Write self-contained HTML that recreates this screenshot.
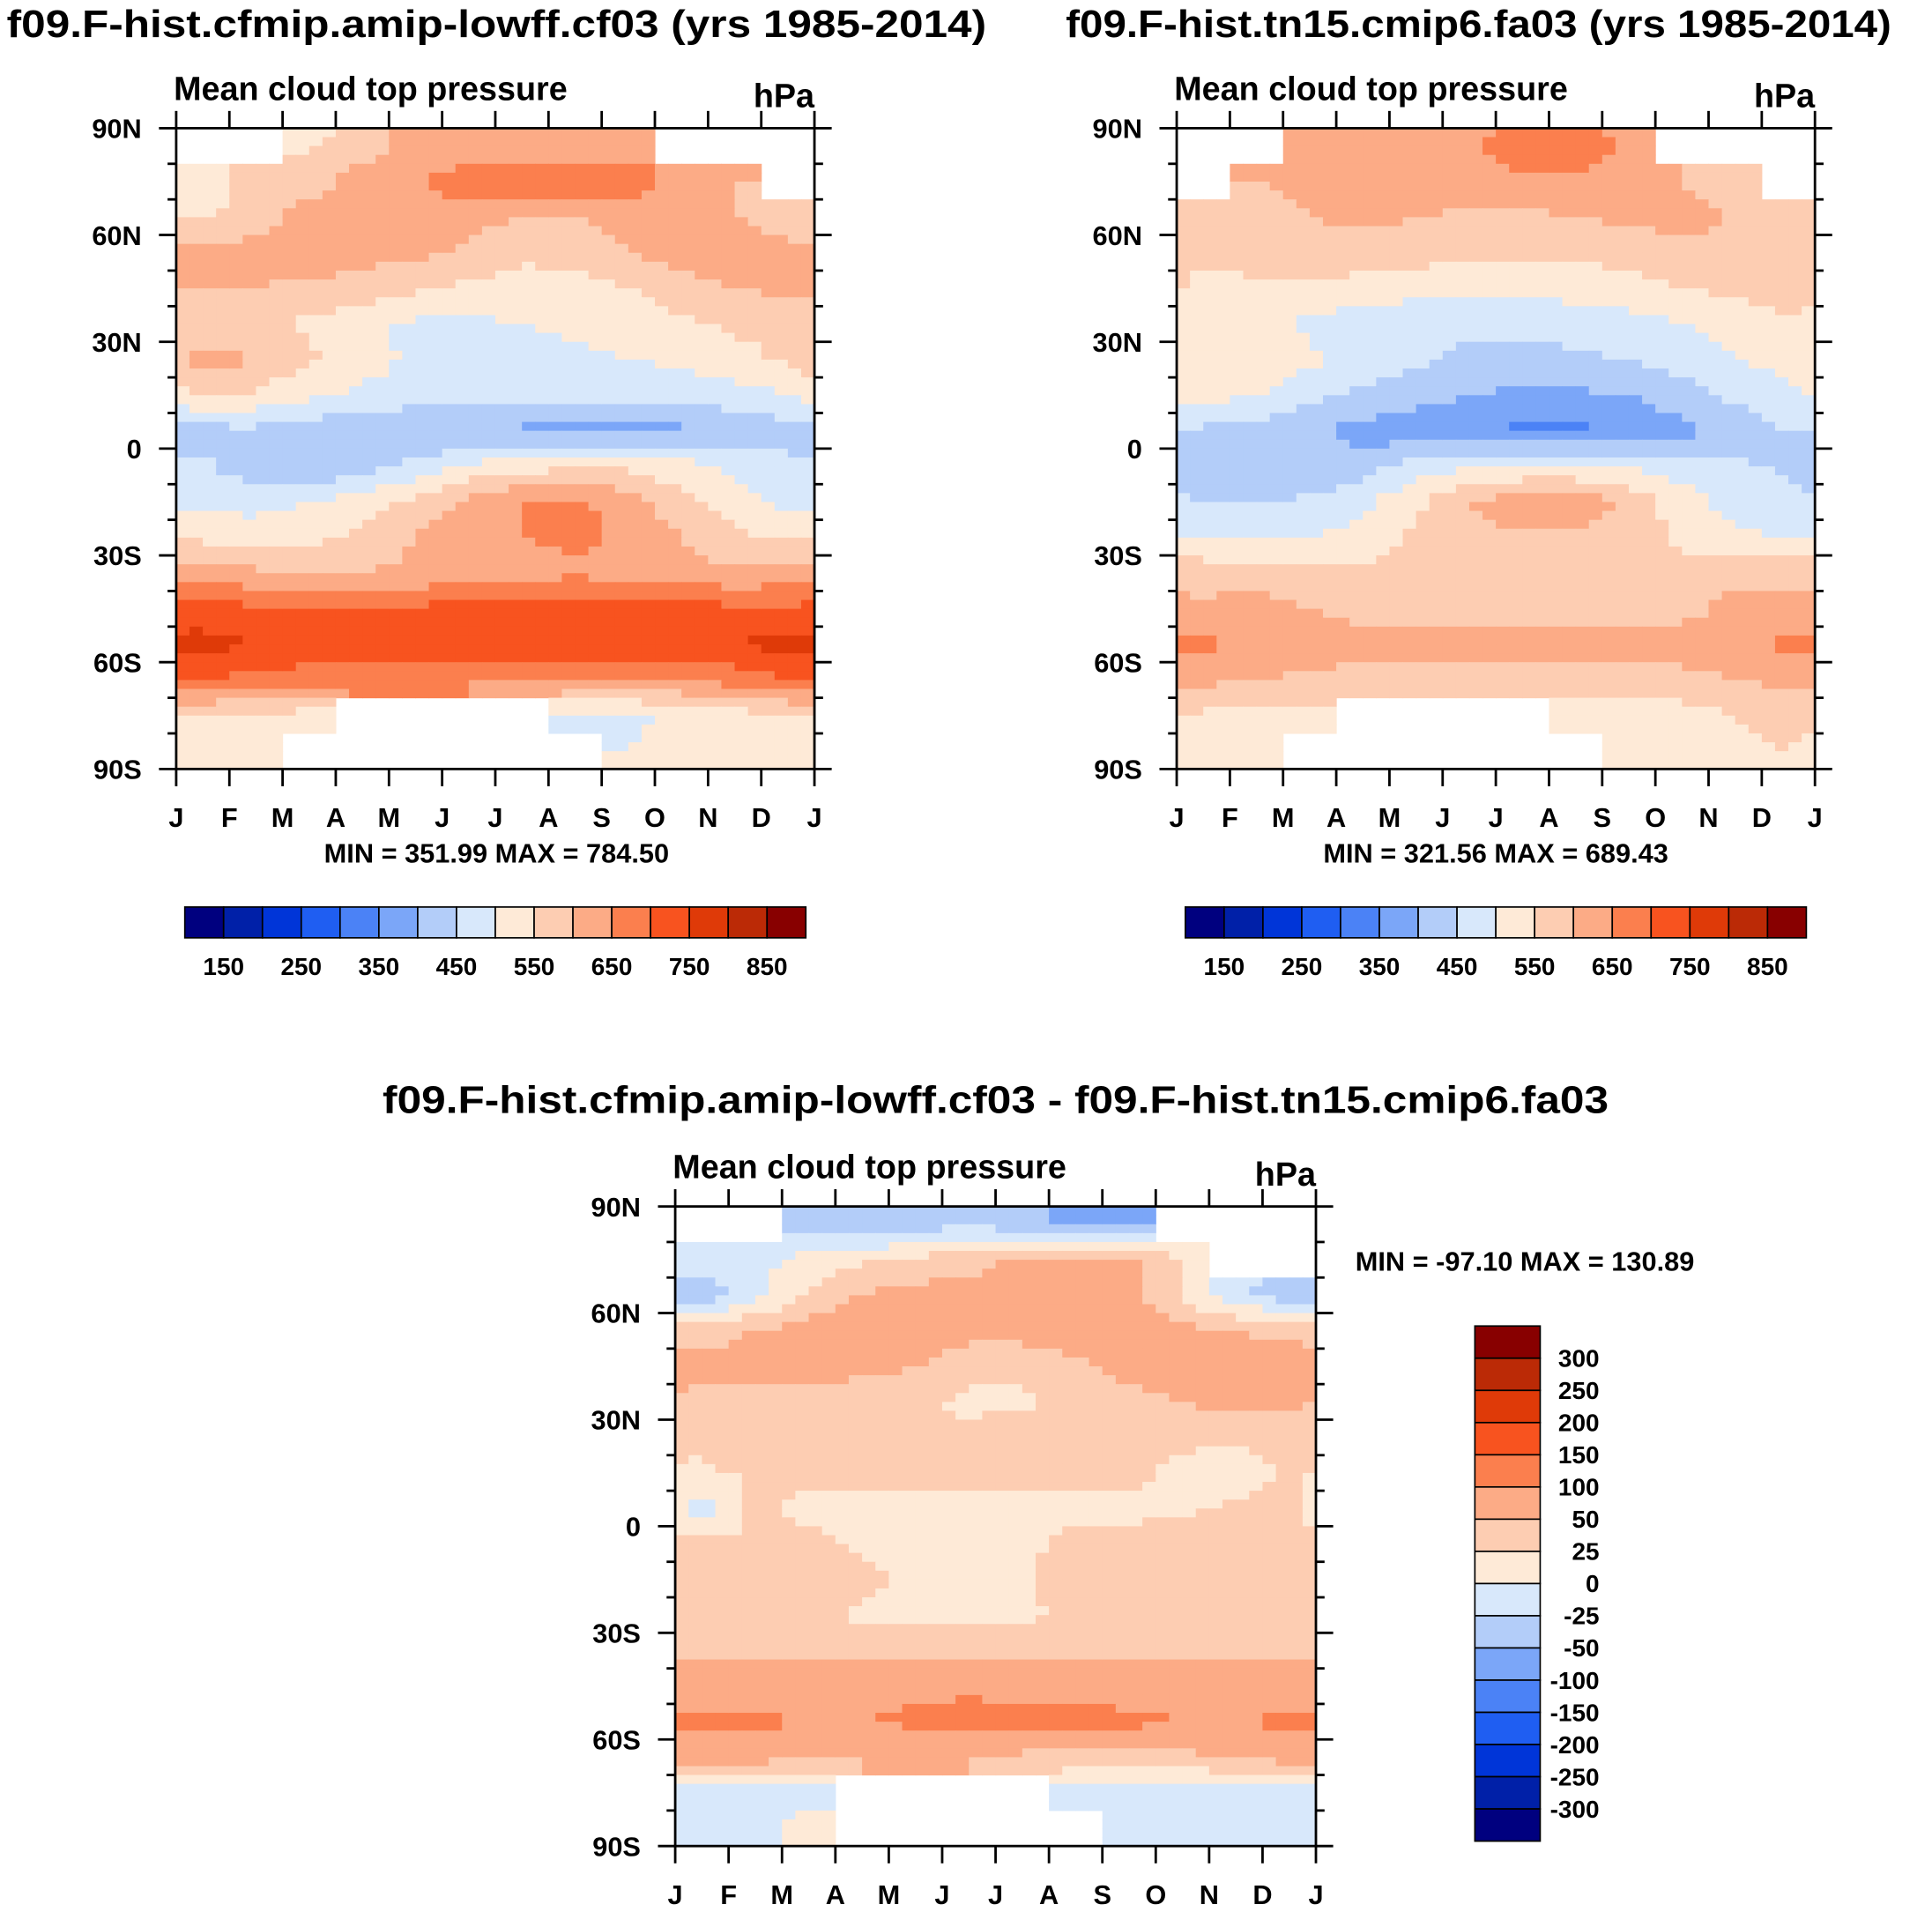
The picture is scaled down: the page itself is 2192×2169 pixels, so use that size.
<!DOCTYPE html>
<html><head><meta charset="utf-8">
<style>
html,body{margin:0;padding:0;background:#fff;}
svg{display:block;font-family:"Liberation Sans",Arial,sans-serif;font-weight:bold;}
</style></head>
<body>
<svg id="fig" xmlns="http://www.w3.org/2000/svg" width="2192" height="2169" viewBox="0 0 1568 1551.5"></svg>
<script>
const monthLabels = ["J","F","M","A","M","J","J","A","S","O","N","D","J"];
const latLabels = ["90N","60N","30N","0","30S","60S","90S"];
const colors = ["#00007f","#0020a8","#0035d8","#1f5ef2","#4b82f6","#7ba6f8","#b3cdf9","#d8e8fb","#feead7","#fdcdb2","#fcab86","#fb7f4e","#f8531f","#df3a08","#bb2a06","#880000"];
const levels1 = [150,200,250,300,350,400,450,500,550,600,650,700,750,800,850];
const levels3 = [-300,-250,-200,-150,-100,-50,-25,0,25,50,100,150,200,250,300];
const cbLabels1 = ["150","250","350","450","550","650","750","850"];
const cbLabels3 = ["300","250","200","150","100","50","25","0","-25","-50","-100","-150","-200","-250","-300"];
const N = null;
const p1Values = [
[N,N,540,580,620,620,620,620,620,N,N,N],
[530,560,580,620,640,680,680,690,680,620,600,N],
[540,580,620,620,640,620,600,600,620,640,600,560],
[620,620,630,620,610,590,560,570,600,620,640,620],
[600,600,590,580,560,540,530,530,550,580,600,610],
[570,560,540,510,490,490,500,510,520,540,560,570],
[620,600,560,520,490,480,480,490,500,510,530,560],
[560,540,510,490,480,470,470,460,460,470,480,500],
[430,440,420,400,390,390,390,380,380,390,410,430],
[460,420,400,430,470,510,530,540,540,520,490,460],
[480,480,500,530,560,610,650,660,630,560,520,490],
[540,530,540,560,600,640,650,660,640,600,560,540],
[620,610,600,600,610,620,630,640,630,620,610,620],
[720,710,700,700,710,720,720,730,730,720,710,710],
[770,750,740,740,740,740,740,740,740,740,750,770],
[710,680,670,660,650,650,640,640,640,650,670,700],
[540,540,530,N,N,N,N,490,490,510,530,540],
[540,540,N,N,N,N,N,N,500,520,530,540]];
const p2Values = [
[N,N,600,620,620,640,680,680,640,N,N,N],
[N,600,620,620,620,640,640,640,620,600,570,N],
[560,570,600,610,600,590,590,600,610,620,600,580],
[560,570,580,580,570,560,560,560,570,580,580,580],
[530,540,540,530,520,510,510,520,530,550,560,580],
[530,520,490,470,460,460,460,470,480,500,520,540],
[550,540,510,480,460,440,440,440,450,470,500,520],
[520,500,460,440,420,400,390,390,400,430,460,490],
[440,430,410,380,360,350,340,340,350,380,420,450],
[430,410,400,430,470,490,500,500,490,480,460,440],
[450,450,460,490,540,600,640,640,590,520,480,460],
[500,490,500,520,560,580,590,590,580,540,510,500],
[580,580,570,560,560,560,560,570,570,570,580,580],
[610,620,600,580,570,570,570,570,570,580,620,620],
[660,640,630,620,620,620,620,620,620,630,640,660],
[610,600,590,580,580,580,580,580,580,580,600,610],
[540,540,530,N,N,N,N,500,520,530,550,560],
[540,540,N,N,N,N,N,N,520,530,540,550]];
const p3Values = [
[N,N,-40,-40,-40,-30,-40,-60,-60,N,N,N],
[-10,-10,10,20,30,40,60,60,60,20,N,N],
[-40,-10,30,50,60,60,70,70,60,20,-20,-40],
[40,50,60,70,70,60,60,70,70,60,50,40],
[60,60,60,60,50,30,30,40,60,70,70,70],
[40,40,40,30,30,20,20,30,40,50,60,60],
[30,40,30,30,30,30,40,40,30,30,30,30],
[20,30,30,30,30,30,30,30,30,20,10,30],
[-10,30,20,20,20,20,20,20,20,20,30,30],
[30,30,30,20,20,20,20,30,30,40,40,40],
[40,50,40,30,20,20,20,40,40,40,40,40],
[30,30,30,20,20,20,20,30,30,30,30,30],
[40,40,40,40,40,40,40,40,40,40,40,40],
[70,70,70,80,90,90,90,90,80,80,70,70],
[110,110,100,100,110,120,110,110,110,100,100,110],
[60,60,50,50,50,50,40,40,40,40,50,60],
[-10,-10,-10,N,N,N,N,-10,-10,-10,-10,-10],
[-10,-10,10,N,N,N,N,N,-10,-10,-10,-10]];

const svg = document.getElementById('fig');
const NS = "http://www.w3.org/2000/svg";
function mk(tag, attrs, parent){const e=document.createElementNS(NS,tag);for(const k in attrs)e.setAttribute(k,attrs[k]);(parent||svg).appendChild(e);return e;}
function txt(s,x,y,size,anchor,parent){const t=mk('text',{x:x,y:y,'font-size':size,'text-anchor':anchor||'middle',fill:'#000'},parent);t.textContent=s;return t;}
function colorFor(v,levels){let i=0;while(i<levels.length&&v>=levels[i])i++;return colors[i];}

function panel(name,x0,y0,w,h,vals,levels,title,titleX,titleY,titleLen){
  const g=mk('g',{});
  
  
  const t=txt(title,titleX,titleY,31,'middle',g);
  t.setAttribute('textLength',titleLen);
  t.setAttribute('lengthAdjust','spacingAndGlyphs');
  
  
  const st=txt("Mean cloud top pressure",x0-2,y0-23,27,'start',g);
  
  
  const u=txt("hPa",x0+w,y0-17,27,'end',g);
  
  
  const rows=vals.length, cols=vals[0].length;
  const cw=w/cols, ch=h/rows, S=4;
  const field=mk('g',{},g);
  
  
  function get(r,c,fb){if(r<0||r>=rows)return fb;c=(c+cols)%cols;const v=vals[r][c];return v===null?fb:v;}
  for(let r=0;r<rows;r++)for(let c=0;c<cols;c++){
    const v=vals[r][c]; if(v===null)continue;
    for(let i=0;i<S;i++)for(let j=0;j<S;j++){
      const fy=(i+0.5)/S-0.5, fx=(j+0.5)/S-0.5;
      const r2=r+(fy<0?-1:1), c2=c+(fx<0?-1:1);
      const ay=Math.abs(fy), ax=Math.abs(fx);
      const v10=get(r2,c,v), v01=get(r,c2,v), v11=get(r2,c2,v);
      const val=v*(1-ay)*(1-ax)+v10*ay*(1-ax)+v01*(1-ay)*ax+v11*ay*ax;
      const cell=mk('rect',{x:x0+c*cw+j*cw/S,y:y0+r*ch+i*ch/S,width:cw/S+0.4,height:ch/S+0.4,fill:colorFor(val,levels)},field);
      
      
    }
  }
  const fr=mk('rect',{x:x0,y:y0,width:w,height:h,fill:'none',stroke:'#000','stroke-width':2},g);
  
  
  for(let k=0;k<monthLabels.length;k++){
    const x=x0+k*w/12;
    mk('line',{x1:x,x2:x,y1:y0,y2:y0-14,stroke:'#000','stroke-width':2},g);
    mk('line',{x1:x,x2:x,y1:y0+h,y2:y0+h+14,stroke:'#000','stroke-width':2},g);
    const l=txt(monthLabels[k],x,y0+h+47,22,'middle',g);
    
    
  }
  for(let k=0;k<=18;k++){
    const y=y0+k*h/18, major=k%3===0, L=major?14:7;
    mk('line',{x1:x0,x2:x0-L,y1:y,y2:y,stroke:'#000','stroke-width':2},g);
    mk('line',{x1:x0+w,x2:x0+w+L,y1:y,y2:y,stroke:'#000','stroke-width':2},g);
    if(major){const l=txt(latLabels[k/3],x0-28,y+8,22,'end',g);
      
      }
  }
  return g;
}
function hbar(name,x0,y0,w,h,labels){
  const g=mk('g',{});
  
  
  const bw=w/16;
  for(let i=0;i<16;i++){const b=mk('rect',{x:x0+i*bw,y:y0,width:bw,height:h,fill:colors[i],stroke:'#000','stroke-width':1.2},g);
    
    }
  for(let k=0;k<labels.length;k++){const l=txt(labels[k],x0+(1+2*k)*bw,y0+h+30,20,'middle',g);
    
    }
}
function vbar(name,x0,y0,w,h,labels){
  const g=mk('g',{});
  
  
  const bh=h/16;
  for(let i=0;i<16;i++){const b=mk('rect',{x:x0,y:y0+i*bh,width:w,height:bh,fill:colors[15-i],stroke:'#000','stroke-width':1.2},g);
    
    }
  for(let k=0;k<labels.length;k++){const l=txt(labels[k],x0+w+48,y0+(k+1)*bh+7,20,'end',g);
    
    }
}
panel('panel-cfmip',143,104,518,520,p1Values,levels1,"f09.F-hist.cfmip.amip-lowff.cf03 (yrs 1985-2014)",403,30,795);
panel('panel-cmip6',955,104,518,520,p2Values,levels1,"f09.F-hist.tn15.cmip6.fa03 (yrs 1985-2014)",1200,30,670);
panel('panel-diff',548,979,520,519,p3Values,levels3,"f09.F-hist.cfmip.amip-lowff.cf03 - f09.F-hist.tn15.cmip6.fa03",808,903,995);
let m=txt("MIN = 351.99 MAX = 784.50",403,700,22,'middle');

m=txt("MIN = 321.56 MAX = 689.43",1214,700,22,'middle');

m=txt("MIN = -97.10 MAX = 130.89",1100,1031,22,'start');

hbar('colorbar-1',150,736,504,25,cbLabels1);
hbar('colorbar-2',962,736,504,25,cbLabels1);
vbar('colorbar-3',1197,1076,53,418,cbLabels3);
</script>
</body></html>
